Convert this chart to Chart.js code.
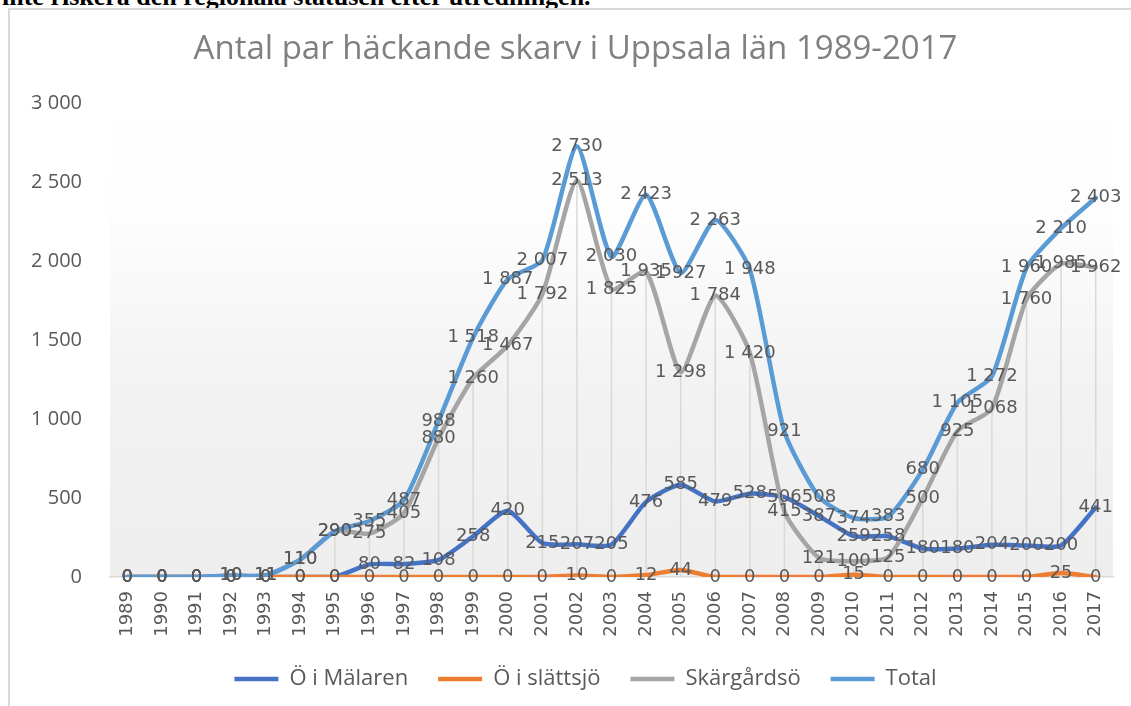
<!DOCTYPE html>
<html>
<head>
<meta charset="utf-8">
<script src="https://cdn.jsdelivr.net/npm/chart.js@4.4.0/dist/chart.umd.min.js"></script>
<style>
  html, body { margin:0; padding:0; background:#fff; overflow:hidden; }
  body { width:1131px; height:706px; position:relative; }
  #topText { position:absolute; left:2px; top:-16px; font:bold 26px/26px "Liberation Serif", serif; color:#000; white-space:nowrap; }
  #frame { position:absolute; left:8px; top:8px; width:1200px; height:800px; border:2px solid #d9d9d9; }
  #wrap { position:absolute; left:10px; top:10px; width:1131px; height:696px; }
</style>
</head>
<body>
<div id="topText">inte riskera den regionala statusen efter utredningen.</div>
<div id="frame"></div>
<div id="wrap"><canvas id="skarvChart"></canvas></div>
<script>
// data
const years = ['1989','1990','1991','1992','1993','1994','1995','1996','1997','1998',
  '1999','2000','2001','2002','2003','2004','2005','2006','2007','2008',
  '2009','2010','2011','2012','2013','2014','2015','2016','2017'];

const malaren = [0,0,0,0,0,0,0,80,82,108,258,420,215,207,205,476,585,479,528,506,387,259,258,180,180,204,200,200,441];
const slattsjo = [0,0,0,0,0,0,0,0,0,0,0,0,0,10,0,12,44,0,0,0,0,15,0,0,0,0,0,25,0];
const skargardso = [0,0,0,10,11,110,290,275,405,880,1260,1467,1792,2513,1825,1935,1298,1784,1420,415,121,100,125,500,925,1068,1760,1985,1962];
const total = [0,0,0,10,11,110,290,355,487,988,1518,1887,2007,2730,2030,2423,1927,2263,1948,921,508,374,383,680,1105,1272,1960,2210,2403];

const yTicks = [0, 500, 1000, 1500, 2000, 2500, 3000];

// 2 730 style numbers
const fmt = (v) => String(v).replace(/\B(?=(\d{3})+(?!\d))/g, ' ');

// plot area gradient like excel
const plotBackground = {
    id: 'plotBackground',
    beforeDraw(chart) {
        const {ctx, chartArea: a} = chart;
        const g = ctx.createLinearGradient(0, a.top, 0, a.bottom);
        g.addColorStop(0, '#ffffff');
        g.addColorStop(0.25, '#fdfdfd');
        g.addColorStop(0.6, '#f2f2f2');
        g.addColorStop(1, '#eeeeee');
        ctx.save();
        ctx.fillStyle = g;
        ctx.fillRect(a.left, a.top, a.right - a.left, a.bottom - a.top);
        ctx.restore();
    }
};

// drop lines from skärgårdsö points
const dropLines = {
    id: 'dropLines',
    beforeDatasetsDraw(chart) {
        const {ctx, chartArea: a} = chart;
        const meta = chart.getDatasetMeta(2);
        ctx.save();
        ctx.strokeStyle = '#d9d9d9';
        ctx.lineWidth = 1.5;
        meta.data.forEach(p => {
            ctx.beginPath();
            ctx.moveTo(p.x, p.y);
            ctx.lineTo(p.x, a.bottom);
            ctx.stroke();
        });
        ctx.restore();
    }
};

// value labels centered on each point
const valueLabels = {
    id: 'valueLabels',
    afterDatasetsDraw(chart) {
        const ctx = chart.ctx;
        ctx.save();
        ctx.font = '18px "DejaVu Sans"';
        ctx.fillStyle = '#595959';
        ctx.textAlign = 'center';
        ctx.textBaseline = 'middle';
        chart.data.datasets.forEach((ds, i) => {
            chart.getDatasetMeta(i).data.forEach((p, j) => {
                ctx.fillText(fmt(ds.data[j]), p.x, p.y);
            });
        });
        ctx.restore();
    }
};

// legend + title: fixed legend height, both nudged right like excel placed them
const boxPlace = {
    id: 'boxPlace',
    beforeInit(chart) {
        const fit = chart.legend.fit;
        chart.legend.fit = function () {
            fit.call(this);
            this.height = 68;
        };
    },
    afterLayout(chart) {
        chart.legend.left += 24;
        chart.legend.right += 24;
        chart.titleBlock.left += 14;
        chart.titleBlock.right += 14;
    }
};

const makeSet = (label, data, color, order) => ({
    label: label,
    data: data,
    borderColor: color,
    backgroundColor: color,
    borderWidth: 4.5,
    borderCapStyle: 'round',
    borderJoinStyle: 'round',
    pointRadius: 0,
    pointHoverRadius: 0,
    tension: 0.2,
    order: order
});

const skarvChart = new Chart(document.getElementById('skarvChart').getContext('2d'), {
    type: 'line',
    data: {
        labels: years,
        datasets: [
            makeSet('Ö i Mälaren', malaren, '#4472C4', 4),
            makeSet('Ö i slättsjö', slattsjo, '#ED7D31', 3),
            makeSet('Skärgårdsö', skargardso, '#A5A5A5', 2),
            makeSet('Total', total, '#5B9BD5', 1)
        ]
    },
    options: {
        responsive: true,
        maintainAspectRatio: false,
        animation: false,
        layout: { padding: { left: 0, right: 28, top: 0, bottom: 0 } },
        plugins: {
            title: {
                display: true,
                text: 'Antal par häckande skarv i Uppsala län 1989-2017',
                color: '#808080',
                font: { family: 'Open Sans', size: 33, weight: 'normal', lineHeight: 1.2 },
                padding: { top: 20, bottom: 34 }
            },
            legend: {
                position: 'bottom',
                labels: {
                    usePointStyle: true,
                    pointStyle: 'line',
                    pointStyleWidth: 44,
                    boxHeight: 5,
                    padding: 30,
                    color: '#595959',
                    font: { family: 'Open Sans', size: 22 },
                    sort: (a, b) => a.datasetIndex - b.datasetIndex
                }
            },
            tooltip: { enabled: false }
        },
        scales: {
            x: {
                offset: true,
                grid: { display: true, color: 'rgba(0,0,0,0)', drawTicks: false },
                border: { display: true, color: '#d9d9d9', width: 1.5 },
                ticks: {
                    autoSkip: false,
                    minRotation: 90,
                    maxRotation: 90,
                    padding: 14,
                    color: '#595959',
                    font: { family: 'DejaVu Sans', size: 18 }
                },
                afterFit(scale) { scale.height = 61; }
            },
            y: {
                min: 0,
                max: 3000,
                afterBuildTicks(scale) { scale.ticks = yTicks.map(v => ({ value: v })); },
                grid: { display: false, drawTicks: false },
                border: { display: false },
                ticks: {
                    padding: 28,
                    color: '#595959',
                    font: { family: 'Open Sans', size: 20 },
                    callback: (v) => fmt(v)
                },
                afterFit(scale) { scale.width = 100; }
            }
        }
    },
    plugins: [plotBackground, dropLines, valueLabels, boxPlace]
});
</script>
</body>
</html>
